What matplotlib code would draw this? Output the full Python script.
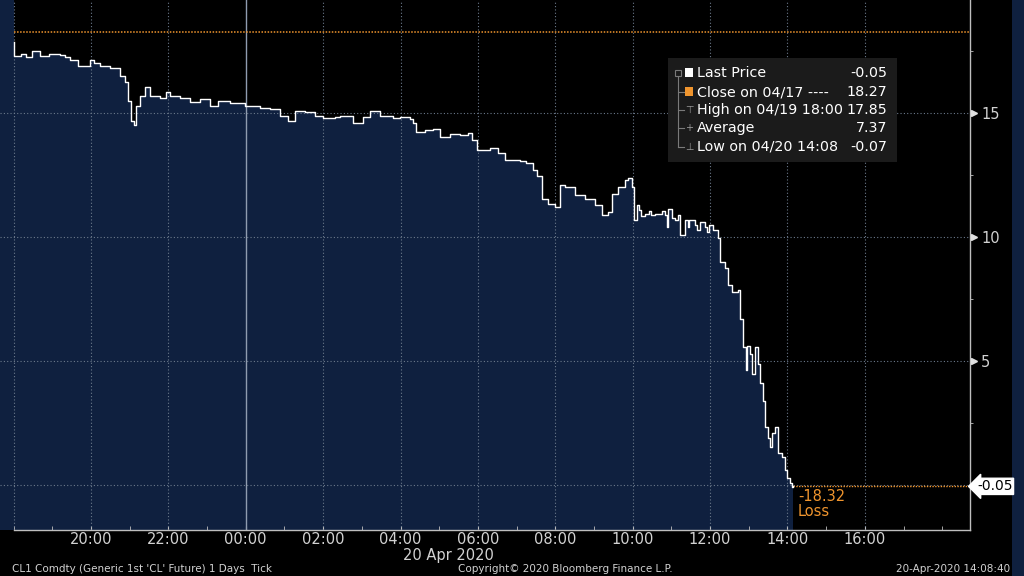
# CL1 Comdty intraday tick chart, 19-20 Apr 2020 (Bloomberg style)

import pandas as pd
import matplotlib
matplotlib.use("Agg")
import matplotlib.pyplot as plt
import matplotlib.dates as mdates
from matplotlib.lines import Line2D
from matplotlib.patches import Rectangle

# price data (time, price)
times = [
    "04-19 18:00", "04-19 18:01", "04-19 18:12", "04-19 18:20", "04-19 18:29",
    "04-19 18:41", "04-19 18:55", "04-19 19:12", "04-19 19:20",
    "04-19 19:27", "04-19 19:40", "04-19 19:58", "04-19 20:05", "04-19 20:14", "04-19 20:29",
    "04-19 20:45", "04-19 20:53", "04-19 20:57", "04-19 21:02", "04-19 21:07",
    "04-19 21:10", "04-19 21:16", "04-19 21:24", "04-19 21:31", "04-19 21:47",
    "04-19 21:56", "04-19 22:02", "04-19 22:18", "04-19 22:33", "04-19 22:49",
    "04-19 23:04", "04-19 23:17", "04-19 23:35", "04-19 23:59", "04-20 00:22",
    "04-20 00:38", "04-20 00:53", "04-20 01:05", "04-20 01:16", "04-20 01:32",
    "04-20 01:47", "04-20 02:00", "04-20 02:18", "04-20 02:26", "04-20 02:46",
    "04-20 03:02", "04-20 03:13", "04-20 03:28", "04-20 03:48", "04-20 03:59",
    "04-20 04:15", "04-20 04:19", "04-20 04:24", "04-20 04:38", "04-20 04:50",
    "04-20 05:01", "04-20 05:17", "04-20 05:32", "04-20 05:44", "04-20 05:51",
    "04-20 05:58", "04-20 06:19", "04-20 06:31", "04-20 06:42", "04-20 07:06",
    "04-20 07:14", "04-20 07:25", "04-20 07:31", "04-20 07:39", "04-20 07:49",
    "04-20 07:59", "04-20 08:07", "04-20 08:15", "04-20 08:31", "04-20 08:46",
    "04-20 09:01", "04-20 09:12", "04-20 09:22", "04-20 09:28", "04-20 09:37",
    "04-20 09:48", "04-20 09:53", "04-20 09:59", "04-20 10:02", "04-20 10:07",
    "04-20 10:10", "04-20 10:13", "04-20 10:19", "04-20 10:25", "04-20 10:28",
    "04-20 10:35", "04-20 10:45", "04-20 10:50", "04-20 10:53", "04-20 10:55",
    "04-20 11:01", "04-20 11:05", "04-20 11:10", "04-20 11:13", "04-20 11:21",
    "04-20 11:25", "04-20 11:28", "04-20 11:36", "04-20 11:40", "04-20 11:45",
    "04-20 11:52", "04-20 11:55", "04-20 11:58", "04-20 12:04", "04-20 12:12",
    "04-20 12:15", "04-20 12:23", "04-20 12:27", "04-20 12:34", "04-20 12:43",
    "04-20 12:46", "04-20 12:51", "04-20 12:56", "04-20 12:58", "04-20 13:02",
    "04-20 13:05", "04-20 13:09", "04-20 13:14", "04-20 13:17", "04-20 13:22",
    "04-20 13:25", "04-20 13:30", "04-20 13:33", "04-20 13:36", "04-20 13:40",
    "04-20 13:45", "04-20 13:51", "04-20 13:56", "04-20 14:00", "04-20 14:04",
    "04-20 14:07", "04-20 14:08",
]
prices = [
    17.85, 17.30, 17.40, 17.25, 17.50,
    17.30, 17.40, 17.35, 17.25,
    17.15, 16.90, 17.15, 17.00, 16.90, 16.80,
    16.50, 16.25, 15.50, 14.70, 14.50,
    15.30, 15.70, 16.05, 15.70, 15.60,
    15.85, 15.70, 15.60, 15.45, 15.55,
    15.30, 15.50, 15.40, 15.30, 15.20,
    15.15, 14.90, 14.70, 15.10, 15.05,
    14.90, 14.80, 14.85, 14.90, 14.60,
    14.85, 15.10, 14.90, 14.80, 14.85,
    14.75, 14.60, 14.25, 14.30, 14.35,
    14.05, 14.15, 14.10, 14.20, 13.90,
    13.50, 13.60, 13.40, 13.10, 13.05,
    13.00, 12.70, 12.45, 11.55, 11.35,
    11.20, 12.10, 12.00, 11.70, 11.55,
    11.30, 10.90, 11.00, 11.75, 12.00,
    12.30, 12.40, 12.00, 10.70, 11.30,
    11.10, 10.85, 10.95, 11.05, 10.90,
    10.95, 11.05, 10.90, 10.40, 11.15,
    10.75, 10.70, 10.90, 10.10, 10.70,
    10.40, 10.70, 10.50, 10.30, 10.60,
    10.40, 10.20, 10.50, 10.30, 9.95,
    9.00, 8.75, 8.05, 7.80, 7.85,
    6.70, 5.55, 4.65, 5.60, 5.30,
    4.50, 5.55, 4.90, 4.10, 3.40,
    2.35, 1.90, 1.55, 2.10, 2.35,
    1.30, 1.15, 0.60, 0.30, 0.10,
    -0.07, -0.05,
]

prev_close = 18.27
last_price = -0.05
change = -18.32

legend_labels = ["Last Price", "Close on 04/17 ----", "High on 04/19 18:00",
                 "Average", "Low on 04/20 14:08"]
legend_values = ["-0.05", "18.27", "17.85", "7.37", "-0.07"]

t = pd.to_datetime(["2020-" + s for s in times], format="%Y-%m-%d %H:%M")

NAVY = "#0f203f"
ORANGE = "#f0952e"
GREY = "#d2d2d2"
GRID = "#6c7a8c"

plt.rcParams["font.family"] = ["DejaVu Sans"]

fig = plt.figure(figsize=(10.24, 5.76), dpi=100, facecolor="black")
fig.patches.append(Rectangle((1012 / 1024, 0), 12 / 1024, 1, transform=fig.transFigure,
                             facecolor=NAVY, edgecolor="none", zorder=-1))
ax = fig.add_axes([0, 46 / 576, 970 / 1024, 530 / 576])
ax.set_facecolor("black")

x0 = pd.Timestamp("2020-04-19 18:00")
xlim_left = x0 - pd.Timedelta(minutes=21)
xlim_right = pd.Timestamp("2020-04-20 18:43")
ax.set_xlim(xlim_left, xlim_right)
ax.set_ylim(-1.81, 19.56)

# area + step line
ax.axvspan(xlim_left, x0, color=NAVY, lw=0, zorder=1)
ax.fill_between(t, prices, -1.81, step="post", color=NAVY, lw=0, zorder=1)
ax.step(t, prices, where="post", color="white", lw=1.0, zorder=4)

# grid
for h in [0, 5, 10, 15]:
    ax.axhline(h, color=GRID, lw=0.8, ls=(0, (1, 2)), zorder=2)
for vt in pd.date_range("2020-04-19 18:00", "2020-04-20 16:00", freq="2h"):
    if vt.hour == 0:
        ax.axvline(vt, color="#8f9cb0", lw=1.0, zorder=2)
    else:
        ax.axvline(vt, color=GRID, lw=0.8, ls=(0, (1, 2)), zorder=2)

# previous close line and last price line
ax.hlines(prev_close, x0, xlim_right, color=ORANGE, lw=1.1, ls=(0, (1, 1)), zorder=3)
ax.hlines(last_price, t[-1], xlim_right, color=ORANGE, lw=1.0, ls=(0, (1, 1)), zorder=3)
ax.text(t[-1] + pd.Timedelta(minutes=8), last_price - 0.1, f"{change:.2f}\nLoss",
        color=ORANGE, fontsize=10.5, ha="left", va="top", linespacing=1.0, zorder=5)

# spines
for s in ["top", "left"]:
    ax.spines[s].set_visible(False)
for s in ["bottom", "right"]:
    ax.spines[s].set_color("#bfbfbf")
    ax.spines[s].set_linewidth(1.0)
ax.spines["bottom"].set_bounds(mdates.date2num(x0), mdates.date2num(xlim_right))

# x axis
ax.xaxis.set_major_locator(mdates.HourLocator(byhour=range(0, 24, 2)))
ax.xaxis.set_minor_locator(mdates.HourLocator())
ax.xaxis.set_major_formatter(mdates.DateFormatter("%H:%M"))
ax.set_xticks([x for x in ax.get_xticks() if x > mdates.date2num(x0) + 0.01
               and x < mdates.date2num(xlim_right) - 0.05])
ax.tick_params(axis="x", which="both", direction="in", length=3, color="#bfbfbf",
               labelcolor=GREY, labelsize=10.5, pad=1.5)
ax.annotate("20 Apr 2020", xy=(mdates.date2num(pd.Timestamp("2020-04-20 05:15")), 0),
            xycoords=("data", "axes fraction"), xytext=(0, -18.5),
            textcoords="offset points", color=GREY, fontsize=10.5, ha="center", va="center")

# y axis on right
ax.yaxis.tick_right()
ax.set_yticks([5, 10, 15])
ax.set_yticks([2.5, 7.5, 12.5, 17.5], minor=True)
ax.tick_params(axis="y", which="major", length=0, labelcolor=GREY, labelsize=10.5, pad=8)
ax.tick_params(axis="y", which="minor", direction="out", length=2, color="#bfbfbf")
ax.plot([1.004] * 3, [5, 10, 15], marker=">", ms=4, color="#e0e0e0", ls="none",
        transform=ax.get_yaxis_transform(), clip_on=False, zorder=6)
ax.annotate(f"{last_price:.2f}", xy=(1.0, last_price), xycoords=("axes fraction", "data"),
            xytext=(5, 0), textcoords="offset points", ha="left", va="center",
            fontsize=10, color="black", zorder=10, annotation_clip=False,
            bbox=dict(boxstyle="larrow,pad=0.08", fc="white", ec="white"))

# legend box
fig.patches.append(Rectangle((668 / 1024, 1 - 162 / 576), 229 / 1024, 104 / 576,
                             transform=fig.transFigure, facecolor="#1b1b1b",
                             edgecolor="none", zorder=5))
rows_y = [73, 92, 110, 128, 147]
for i, (lab, val) in enumerate(zip(legend_labels, legend_values)):
    yy = 1 - rows_y[i] / 576
    fig.text(697 / 1024, yy, lab, color="white", fontsize=10.3, ha="left", va="center", zorder=6)
    fig.text(887 / 1024, yy, val, color="white", fontsize=10.3, ha="right", va="center", zorder=6)
fig.patches.append(Rectangle((685 / 1024, 1 - 77 / 576), 8 / 1024, 9 / 576,
                             transform=fig.transFigure, facecolor="white", zorder=6))
fig.patches.append(Rectangle((685 / 1024, 1 - 96 / 576), 8 / 1024, 9 / 576,
                             transform=fig.transFigure, facecolor=ORANGE, zorder=6))
tree = "#7a7a7a"
fig.lines.append(Line2D([678 / 1024] * 2, [1 - 76 / 576, 1 - 147 / 576],
                        transform=fig.transFigure, color=tree, lw=0.8, zorder=6))
for ry in rows_y[1:]:
    fig.lines.append(Line2D([678 / 1024, 684 / 1024], [1 - ry / 576] * 2,
                            transform=fig.transFigure, color=tree, lw=0.8, zorder=6))
fig.patches.append(Rectangle((675 / 1024, 1 - 76 / 576), 6 / 1024, 6 / 576,
                             transform=fig.transFigure, facecolor="#1b1b1b",
                             edgecolor=tree, lw=0.8, zorder=7))
for ry, g in zip(rows_y[2:], ["⊤", "+", "⊥"]):
    fig.text(689 / 1024, 1 - ry / 576, g, color="#9a9a9a", fontsize=7,
             ha="center", va="center", zorder=7)

# footer
fig.text(12 / 1024, 1 - 569 / 576, "CL1 Comdty (Generic 1st 'CL' Future) 1 Days  Tick",
         color=GREY, fontsize=7.5, ha="left", va="center")
fig.text(565 / 1024, 1 - 569 / 576, "Copyright© 2020 Bloomberg Finance L.P.",
         color=GREY, fontsize=7.5, ha="center", va="center")
fig.text(1010 / 1024, 1 - 569 / 576, "20-Apr-2020 14:08:40",
         color=GREY, fontsize=7.5, ha="right", va="center")

fig.savefig("out.png", dpi=100, facecolor="black")
